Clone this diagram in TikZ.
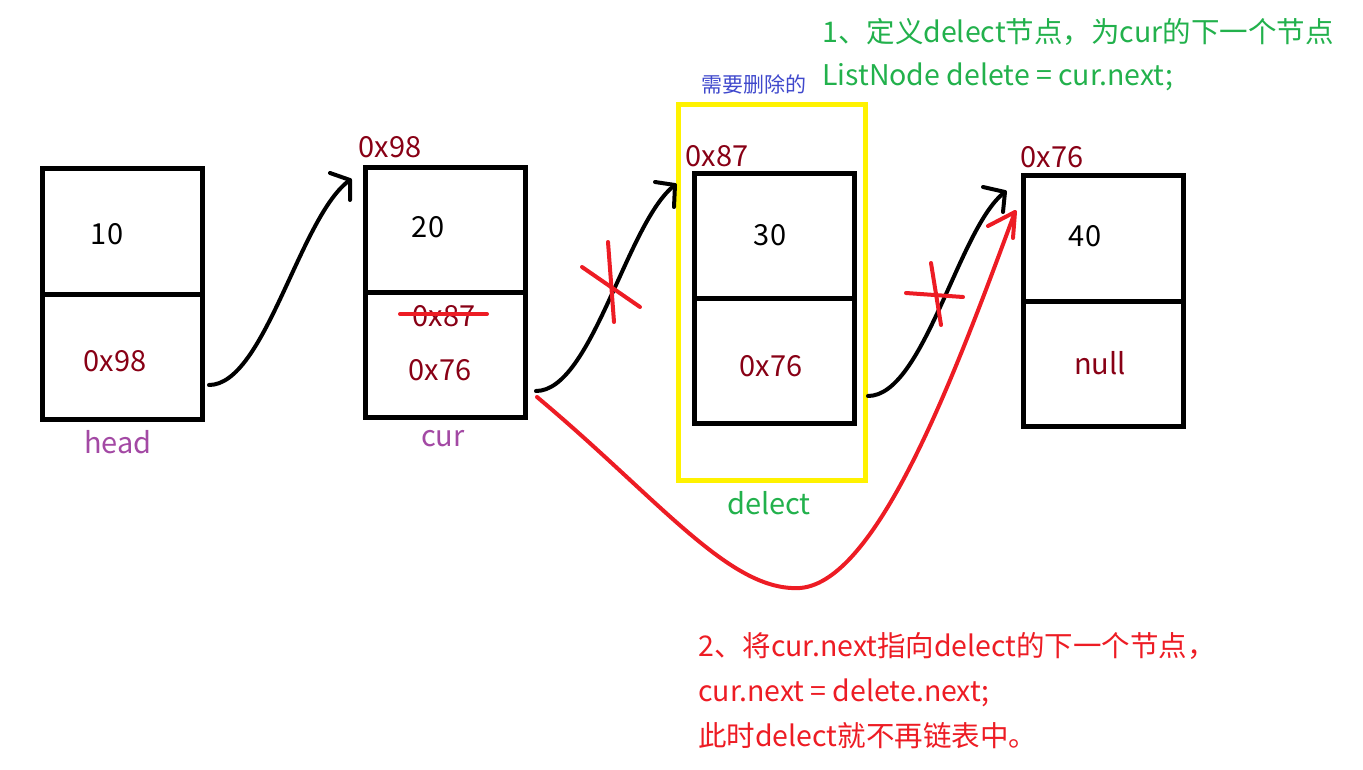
\documentclass[tikz,border=0pt]{standalone}
\usepackage{fontspec}
\newfontfamily\cjk{Noto Sans CJK SC}
\usetikzlibrary{calc}
\definecolor{darkred}{HTML}{880015}
\definecolor{lblpurple}{HTML}{A349A4}
\definecolor{lblgreen}{HTML}{22B14C}
\definecolor{lblred}{HTML}{ED1C24}
\definecolor{lblblue}{HTML}{3F48CC}
\definecolor{selyellow}{HTML}{FFF200}
\begin{document}
\begin{tikzpicture}[x=1pt,y=-1pt,
  box/.style={draw=black,line width=5pt,minimum width=160pt,minimum height=250pt,inner sep=0pt,outer sep=0pt},
  selbox/.style={draw=selyellow,line width=5pt,minimum width=187pt,minimum height=375pt,inner sep=0pt,outer sep=0pt},
  divider/.style={draw=black,line width=5pt},
  lbl/.style={font=\cjk\fontsize{29}{35}\selectfont,inner sep=0pt,anchor=base},
  note/.style={font=\cjk\fontsize{28.5}{34}\selectfont,inner sep=0pt,anchor=base west},
  small/.style={font=\cjk\fontsize{21}{25}\selectfont,inner sep=0pt,anchor=base},
  link/.style={draw=black,line width=4pt,line cap=round,line join=round},
  redlink/.style={draw=lblred,line width=4pt,line cap=round,line join=round},
  cross/.style={draw=lblred,line width=4pt,line cap=round}]
\useasboundingbox (0,0) rectangle (1363,770);

% boxes
\node[selbox] (sel) at (771.5,292.5) {};
\node[box] (b1) at (122,294) {};
\node[box] (b2) at (445,292.5) {};
\node[box] (b3) at (774.25,298.75) {};
\node[box] (b4) at (1103.25,301) {};
\draw[divider] (b1.west) -- ($(b1.east)+(3,0)$);
\draw[divider] (b2.west) -- ($(b2.east)+(3,0)$);
\draw[divider] (b3.west) -- ($(b3.east)+(3,0)$);
\draw[divider] (b4.west) -- ($(b4.east)+(3,0)$);

% box texts
\node[lbl,text=black] (v1) at (107,244) {10};
\node[lbl,text=darkred] (n1) at (115,371) {0x98};
\node[lbl,text=lblpurple] (hd) at (118,453) {head};

\node[lbl,text=darkred] (ad2) at (390,158) {0x98};
\node[lbl,text=black] (v2) at (428,238) {20};
\node[lbl,text=darkred] (old2) at (444,326) {0x87};
\node[lbl,text=darkred] (n2) at (440,380) {0x76};
\node[lbl,text=lblpurple] (cr) at (443,446) {cur};

\node[small,text=lblblue] (del) at (754,93) {需要删除的};
\node[lbl,text=darkred] (ad3) at (717,167) {0x87};
\node[lbl,text=black] (v3) at (770,246) {30};
\node[lbl,text=darkred] (n3) at (771,376) {0x76};
\node[lbl,text=lblgreen] (dl) at (769,514) {delect};

\node[lbl,text=darkred] (ad4) at (1052,168) {0x76};
\node[lbl,text=black] (v4) at (1085,247) {40};
\node[lbl,text=darkred] (n4) at (1100,374) {null};

% notes
\node[note,text=lblgreen] (g1) at (822,43) {1、定义delect节点，为cur的下一个节点};
\node[note,text=lblgreen] (g2) at (822,86) {ListNode delete = cur.next;};
\node[note,text=lblred] (r1) at (698,656) {2、将cur.next指向delect的下一个节点，};
\node[note,text=lblred] (r2) at (698,701) {cur.next = delete.next;};
\node[note,text=lblred] (r3) at (698,746) {此时delect就不再链表中。};

% strike through old pointer
\coordinate (s1) at (400,314);
\coordinate (s2) at (487,314);
\draw[cross] (s1) -- (s2);

% black links
\coordinate (a1s) at (209,385);
\coordinate (a1e) at (350,180);
\coordinate (h1a) at (330,173);
\coordinate (h1b) at (350,200);
\draw[link] (a1s) .. controls (265,385) and (300,215) .. (a1e);
\draw[link] (h1a) -- (a1e) -- (h1b);

\coordinate (a2s) at (536,391);
\coordinate (a2e) at (675,185);
\coordinate (h2a) at (655,182);
\coordinate (h2b) at (674,207);
\draw[link] (a2s) .. controls (592,391) and (627,221) .. (a2e);
\draw[link] (h2a) -- (a2e) -- (h2b);

\coordinate (a3s) at (868,396);
\coordinate (a3e) at (1005,192);
\coordinate (h3a) at (983,187);
\coordinate (h3b) at (1003,212);
\draw[link] (a3s) .. controls (924,396) and (959,226) .. (a3e);
\draw[link] (h3a) -- (a3e) -- (h3b);

% crosses on old links
\coordinate (x1a) at (608,242);
\coordinate (x1b) at (614,322);
\coordinate (x1c) at (582,267);
\coordinate (x1d) at (640,307);
\draw[cross] (x1a) -- (x1b);
\draw[cross] (x1c) -- (x1d);
\coordinate (x2a) at (906,293);
\coordinate (x2b) at (963,297);
\coordinate (x2c) at (931,263);
\coordinate (x2d) at (941,325);
\draw[cross] (x2a) -- (x2b);
\draw[cross] (x2c) -- (x2d);

% new red link
\coordinate (rs) at (537,397);
\coordinate (rb) at (800,588);
\coordinate (re) at (1015,212);
\coordinate (rha) at (988,226);
\coordinate (rhb) at (1013,238);
\draw[redlink] (rs) .. controls (660,500) and (730,592) .. (rb) .. controls (880,582) and (960,360) .. (re);
\draw[redlink] (rha) -- (re) -- (rhb);
\end{tikzpicture}
\end{document}
